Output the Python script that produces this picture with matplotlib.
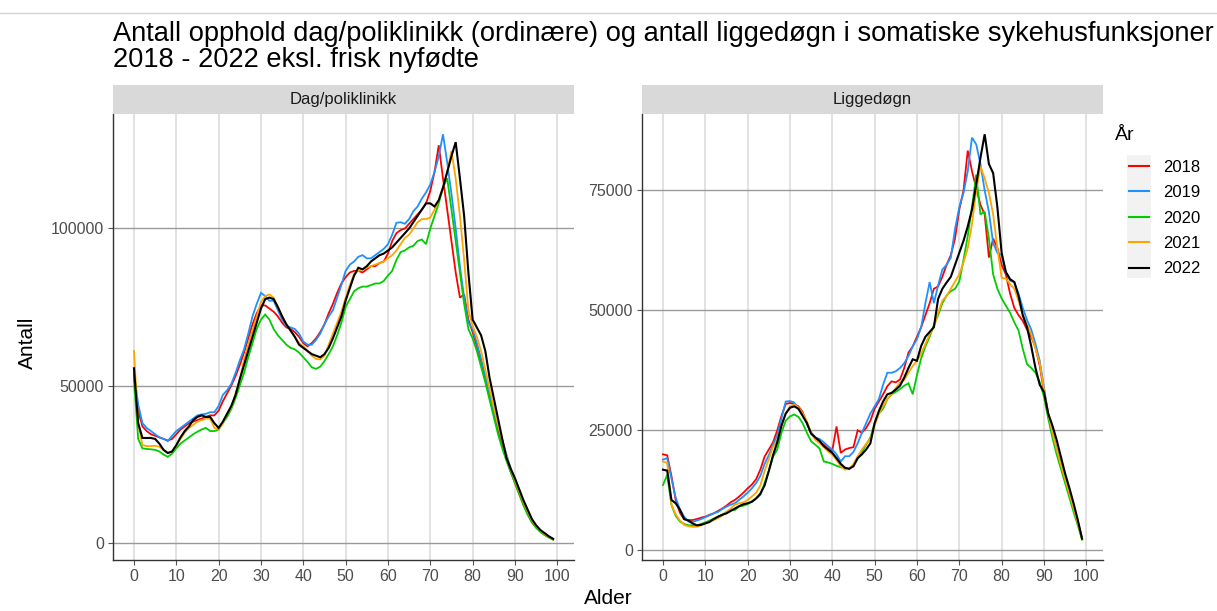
import numpy as np
import matplotlib
matplotlib.use('Agg')
import matplotlib.pyplot as plt
from matplotlib.lines import Line2D
from matplotlib.patches import Rectangle
from matplotlib import font_manager

# ---------------- data ----------------
ages = np.arange(0, 100)
years = ['2018', '2019', '2020', '2021', '2022']
colors = ['#FF0000', '#1E90FF', '#00CD00', '#FFA500', '#000000']
panel_titles = ['Dag/poliklinikk', 'Liggedøgn']
xticks = [0, 10, 20, 30, 40, 50, 60, 70, 80, 90, 100]
dag_yticks = [0, 50000, 100000]
ligg_yticks = [0, 25000, 50000, 75000]

dag_2018 = [53000, 42000, 37000, 35500, 34500, 34000, 33500, 33000, 32500, 33000,
            34500, 36000, 37000, 38000, 38500, 39000, 39500, 40000, 40500, 40500,
            42000, 45000, 47500, 50000, 53000, 56500, 60500, 65000, 69500, 73000,
            75500, 75500, 74500, 73500, 72000, 70000, 68500, 68000, 67000, 65500,
            63500, 62500, 63500, 65000, 67000, 69500, 73000, 76000, 79500, 82500,
            84500, 86000, 86500, 86500, 86000, 87000, 88000, 88000, 89000, 89500,
            92000, 96000, 98500, 99500, 100000, 101500, 103000, 104500, 106000, 108000,
            112000, 118000, 126500, 116000, 106000, 96000, 86000, 78000, 79000, 71000,
            67000, 62500, 57500, 52000, 46500, 41000, 36000, 31000, 26500, 22500,
            19000, 15500, 12000, 9000, 6500, 4800, 3500, 2500, 1700, 1000]
dag_2019 = [54000, 44000, 38000, 36500, 35500, 34500, 33500, 33000, 32300, 34000,
            35500, 36500, 37500, 38500, 39500, 40500, 40800, 41000, 41500, 41500,
            43500, 47000, 48500, 50500, 54000, 58000, 61500, 66500, 72000, 76000,
            79500, 78500, 77000, 77000, 74000, 71000, 69000, 68500, 68000, 66500,
            64000, 63000, 63000, 64500, 66500, 69500, 72000, 74000, 78000, 82000,
            86500, 88500, 89500, 91000, 91500, 90500, 90500, 91500, 92500, 93500,
            95000, 98000, 101800, 102000, 101500, 103000, 105500, 107000, 109500, 111500,
            114000, 118000, 123000, 130000, 121000, 111000, 100000, 88000, 78000, 70000,
            68000, 63500, 58500, 53000, 47500, 42000, 37000, 32500, 28000, 23500,
            19500, 16000, 12500, 9500, 7000, 5000, 3600, 2600, 1800, 1100]
dag_2020 = [52000, 33000, 30000, 29800, 29700, 29500, 29000, 28000, 27300, 28300,
            30000, 31500, 32500, 33500, 34500, 35300, 36000, 36500, 35500, 35500,
            36000, 38000, 40000, 42500, 46000, 50000, 54000, 59000, 63500, 68000,
            71000, 72600, 71000, 68000, 66000, 64500, 63000, 62000, 61500, 60500,
            59000, 57500, 55800, 55300, 56000, 57800, 60000, 62500, 66000, 70000,
            75000, 77500, 80000, 81000, 81500, 81500, 82000, 82500, 82500, 83300,
            85000, 86500, 90000, 92500, 93000, 94000, 94500, 96000, 96500, 95000,
            100000, 104000, 108000, 113000, 116000, 106000, 96000, 86000, 76000, 68000,
            65000, 61000, 56000, 51000, 45500, 40000, 34500, 30000, 26000, 22500,
            19000, 15500, 12000, 9000, 6500, 4700, 3400, 2400, 1600, 900]
dag_2021 = [61000, 38000, 31000, 30700, 30700, 30800, 30500, 29500, 28600, 29000,
            31000, 33000, 35000, 36500, 37500, 38500, 39000, 39500, 39500, 36500,
            36000, 38000, 41000, 43000, 47500, 52000, 58000, 63000, 67500, 72000,
            76500, 78500, 79000, 78000, 75000, 72000, 69500, 67500, 65500, 63500,
            62500, 61000, 59500, 58500, 58300, 59500, 63000, 66500, 70000, 73500,
            78000, 82000, 85500, 86500, 87000, 87500, 88000, 88500, 89000, 89500,
            90500, 91500, 93000, 95000, 97000, 98000, 100000, 102000, 103000, 103000,
            103500, 106000, 109000, 113000, 118000, 124700, 116000, 104000, 90000, 74000,
            69000, 65500, 61000, 55000, 49000, 43000, 37500, 32500, 27500, 23500,
            20000, 16500, 13000, 10000, 7200, 5200, 3800, 2700, 1900, 1100]
dag_2022 = [55500, 38000, 33300, 33300, 33300, 33000, 31500, 29500, 28500, 29000,
            31000, 33500, 35500, 37000, 39000, 40000, 40500, 40000, 40000, 38000,
            36500, 38500, 41000, 43500, 47000, 52000, 56500, 61000, 65500, 70000,
            74500, 77500, 78000, 77500, 75000, 72000, 69500, 67500, 65500, 63000,
            62000, 61000, 60000, 59500, 59000, 60000, 62000, 65000, 68500, 72000,
            77000, 81000, 85000, 87500, 87000, 88000, 89500, 90500, 91500, 92000,
            93000, 94000, 95500, 97000, 98500, 100000, 102000, 104000, 106000, 108000,
            108000, 107000, 109000, 113000, 118000, 123000, 127500, 116000, 104000, 86000,
            71000, 68500, 66000, 61000, 52500, 46000, 39500, 33000, 27000, 23500,
            20500, 17000, 13500, 10500, 7500, 5500, 4000, 3000, 2000, 1200]

ligg_2018 = [20000, 19800, 15500, 10500, 7800, 6500, 6300, 6300, 6500, 6800,
             7000, 7400, 7700, 8200, 8700, 9300, 10000, 10500, 11200, 12000,
             12900, 13700, 14800, 16800, 19500, 21000, 22500, 25000, 28000, 30500,
             30700, 30500, 30000, 28800, 26500, 24500, 23500, 22500, 22000, 21200,
             20800, 25800, 20300, 21000, 21300, 21500, 25000, 24500, 25500, 27000,
             29500, 31000, 32500, 34200, 35200, 35000, 35600, 38000, 41200, 42500,
             44500, 46500, 49000, 51500, 54500, 55000, 57000, 59500, 61500, 65000,
             71000, 75000, 83300, 79000, 75500, 72000, 70000, 61000, 65000, 63000,
             59500, 57500, 53500, 50500, 49000, 47800, 46000, 44500, 42300, 38500,
             33000, 28500, 24500, 21000, 18000, 15000, 11800, 9000, 6000, 2500]
ligg_2019 = [18900, 19200, 15000, 11000, 8500, 7000, 6000, 5900, 6200, 6500,
             6900, 7300, 7700, 8000, 8600, 9100, 9500, 9800, 10500, 11200,
             12000, 12900, 14000, 15500, 18000, 19800, 22000, 24000, 27500, 31000,
             31100, 30800, 29500, 28500, 26500, 24500, 23500, 23200, 22500, 21700,
             21000, 20000, 18500, 19600, 19600, 20500, 22300, 24500, 26500, 28500,
             30000, 31500, 34500, 37000, 37000, 37300, 38000, 39000, 40500, 42500,
             44000, 46500, 51500, 55900, 51500, 55200, 58500, 59500, 61000, 67000,
             71500, 74500, 79000, 86000, 84600, 80500, 75000, 70500, 64000, 62000,
             61500, 58000, 56200, 55900, 53500, 50500, 48000, 46000, 43000, 39500,
             34000, 28500, 24500, 21000, 17800, 14800, 11800, 8800, 5800, 2400]
ligg_2020 = [13600, 15700, 9500, 7200, 6000, 5500, 5200, 5200, 5200, 5500,
             5800, 6200, 6600, 7000, 7400, 8000, 8400, 8400, 9100, 9300,
             9600, 10200, 10800, 11500, 14000, 16500, 19500, 21000, 24500, 27000,
             27900, 28300, 27800, 26500, 24500, 22700, 22000, 21200, 18500, 18300,
             18000, 17600, 17300, 17100, 16900, 17800, 19200, 20500, 22000, 23500,
             26500, 28500, 29500, 31500, 32500, 33000, 33600, 34300, 34800, 32500,
             36500, 40000, 42500, 44500, 47000, 49000, 51500, 53100, 54000, 54500,
             56000, 60500, 65500, 71500, 78300, 70000, 70600, 65000, 57500, 54500,
             52500, 51000, 49500, 47500, 45800, 42000, 38800, 38000, 37000, 35000,
             32000, 27500, 23500, 20000, 17000, 14000, 11000, 8000, 5200, 2200]
ligg_2021 = [18500, 18200, 9500, 7500, 6200, 5300, 5000, 4900, 4900, 5200,
             5600, 6000, 6300, 6700, 7200, 8000, 8700, 9500, 9800, 10000,
             10500, 11200, 12000, 13500, 16500, 19000, 21500, 23000, 26000, 28500,
             30000, 30400, 29800, 28500, 26900, 24500, 23000, 22300, 21500, 20600,
             19900, 18800, 17500, 16800, 17000, 18000, 19600, 21000, 22200, 23200,
             26000, 28500, 30000, 31500, 32500, 33800, 35000, 35500, 37000, 38400,
             39500, 41000, 43000, 45000, 46500, 49500, 52000, 53000, 54500, 56000,
             57500, 60000, 63000, 68000, 75000, 80000, 77500, 74500, 70000, 63000,
             56800, 56600, 55500, 54500, 52000, 49000, 47000, 45000, 42000, 39000,
             33500, 28500, 24500, 21000, 17800, 14800, 11800, 8800, 5700, 2300]
ligg_2022 = [16800, 16600, 10500, 9800, 8500, 6500, 6200, 5600, 5200, 5300,
             5600, 5900, 6500, 7000, 7400, 7700, 8200, 8700, 9200, 9600,
             9800, 10100, 10800, 11800, 13500, 16500, 19800, 22500, 26000, 28500,
             29700, 30000, 29500, 28000, 26500, 24300, 23500, 22800, 21700, 21000,
             20300, 19200, 18000, 17200, 17000, 17500, 19200, 20000, 21000, 22300,
             26500, 29000, 31000, 32500, 32800, 33500, 34300, 36000, 38000, 39800,
             39500, 42600, 44500, 45500, 46500, 52400, 54500, 55800, 57000, 59500,
             62000, 64500, 67500, 71000, 76200, 81800, 86700, 80500, 78600, 71500,
             62000, 58000, 56500, 55900, 53000, 49000, 46500, 42500, 38000, 34500,
             33000, 28500, 26000, 23000, 19500, 16000, 13000, 9800, 6300, 2400]

dag_series = [dag_2018, dag_2019, dag_2020, dag_2021, dag_2022]
ligg_series = [ligg_2018, ligg_2019, ligg_2020, ligg_2021, ligg_2022]

title_text = ("Antall opphold dag/poliklinikk (ordinære) og antall liggedøgn i somatiske sykehusfunksjoner\n"
              "2018 - 2022 eksl. frisk nyfødte")

# ---------------- layout ----------------
W, H = 1217, 611
DPI = 100
plt.rcParams['font.family'] = ['Liberation Sans', 'DejaVu Sans']

fig = plt.figure(figsize=(W / DPI, H / DPI), dpi=DPI)
fig.patch.set_facecolor('white')


def px_axes(x0, y0, x1, y1):
    return fig.add_axes([x0 / W, 1 - y1 / H, (x1 - x0) / W, (y1 - y0) / H])


# thin frame line at top
fig.add_artist(Line2D([0, 1], [1 - 12.5 / H, 1 - 12.5 / H], transform=fig.transFigure,
                      color='#D5D5D5', lw=1.0))

panels = [((113, 114, 574, 560), (113, 85, 574, 114), dag_series, dag_yticks, panel_titles[0]),
          ((642, 114, 1103, 560), (642, 85, 1103, 114), ligg_series, ligg_yticks, panel_titles[1])]

for (box, sbox, series, yt, ptitle) in panels:
    ax = px_axes(*box)
    for vals, col in zip(series, colors):
        ax.plot(ages, vals, color=col, lw=1.5 if col == '#000000' else 1.3, solid_joinstyle='miter')
    ax.set_xticks(xticks)
    ax.set_yticks(yt)
    ax.set_yticklabels([str(v) for v in yt])
    ax.set_xlim(-4.95, 103.95)
    ax.set_axisbelow(True)
    ax.grid(axis='x', color='#DADADA', lw=1.1)
    ax.grid(axis='y', color='#9A9A9A', lw=1.0)
    for s in ['top', 'right']:
        ax.spines[s].set_visible(False)
    for s in ['left', 'bottom']:
        ax.spines[s].set_color('#333333')
        ax.spines[s].set_linewidth(1.0)
    ax.tick_params(length=3.5, width=0.8, color='#555555', labelcolor='#4D4D4D',
                   labelsize=11.5, pad=3)
    sax = px_axes(*sbox)
    sax.set_facecolor('#D9D9D9')
    sax.set_xticks([])
    sax.set_yticks([])
    for s in sax.spines.values():
        s.set_visible(False)
    sax.text(0.5, 0.5, ptitle, ha='center', va='center', fontsize=12, color='#1A1A1A',
             transform=sax.transAxes)

# axis titles
fig.text(608.5 / W, 1 - 598 / H, 'Alder', ha='center', va='center', fontsize=15, color='black')
fig.text(27 / W, 1 - 343 / H, 'Antall', ha='center', va='center', rotation=90, fontsize=15,
         color='black')


# title
def has_font(name):
    try:
        font_manager.findfont(font_manager.FontProperties(family=name), fallback_to_default=False)
        return True
    except Exception:
        return False


title_family = ['Liberation Sans Narrow', 'DejaVu Sans'] if has_font('Liberation Sans Narrow') \
    else ['Liberation Sans', 'DejaVu Sans']
t = fig.text(113 / W, 1 - 21 / H, title_text, ha='left', va='top', fontsize=20,
             family=title_family, linespacing=1.0, color='black')
fig.canvas.draw()
bb = t.get_window_extent(renderer=fig.canvas.get_renderer())
t.set_fontsize(20 * 1100.0 / bb.width)

# legend
fig.add_artist(Rectangle((1127 / W, 1 - 278 / H), 24 / W, 123 / H, transform=fig.transFigure,
                         facecolor='#F2F2F2', edgecolor='none', zorder=0))
fig.text(1115 / W, 1 - 136 / H, 'År', ha='left', va='center', fontsize=14, color='black')
handles = [Line2D([], [], color=c, lw=1.5) for c in colors]
fig.legend(handles, years, loc='upper left', bbox_to_anchor=(1129 / W, 1 - 160 / H),
           frameon=False, fontsize=12, handlelength=1.2, handletextpad=0.85,
           labelspacing=0.62, borderpad=0, borderaxespad=0)

fig.savefig('out.png', dpi=DPI)
